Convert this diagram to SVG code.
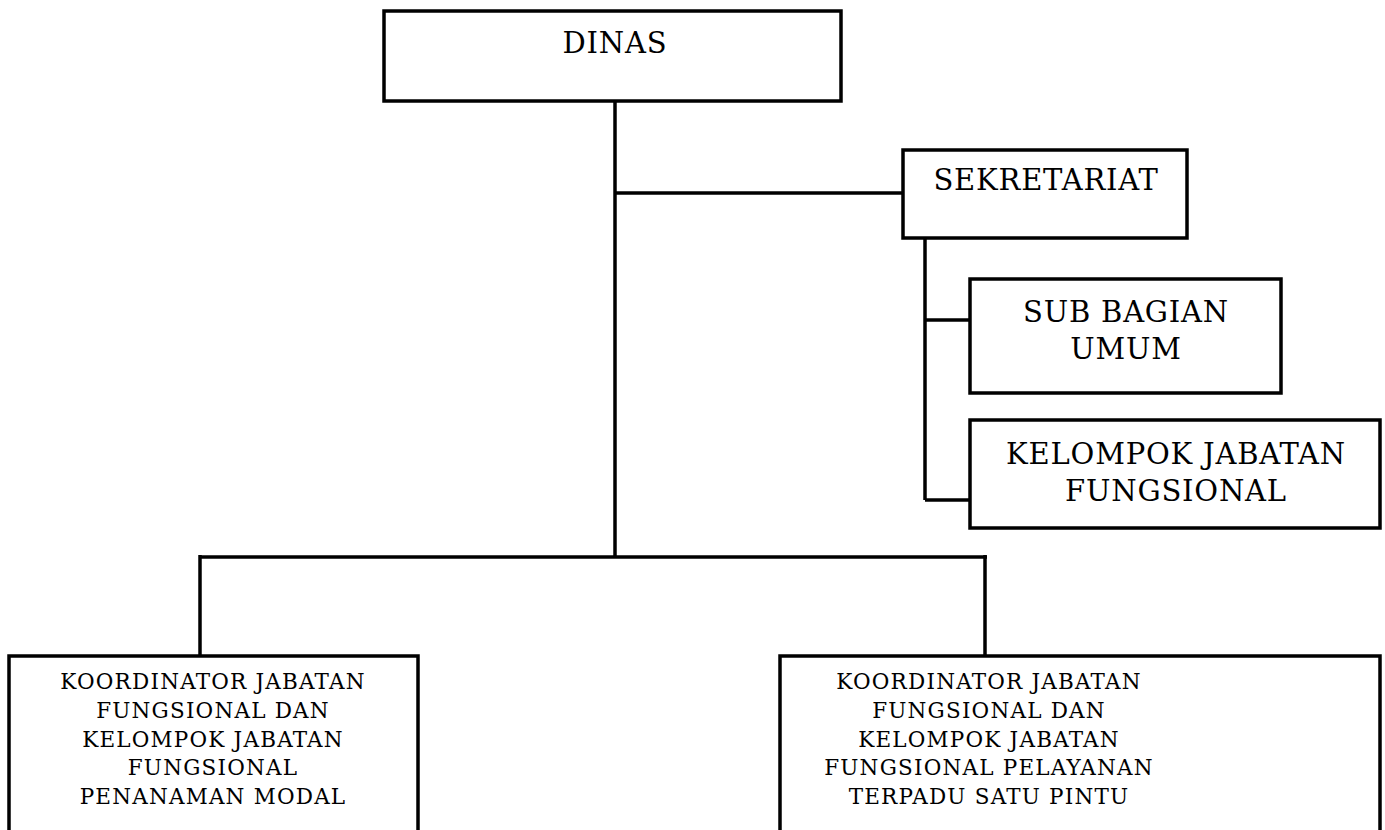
<svg xmlns="http://www.w3.org/2000/svg" width="1385" height="830" viewBox="0 0 1385 830">
<style>
.box{fill:#fff;stroke:#000;stroke-width:3.5}
.ln{stroke:#000;stroke-width:3.5;fill:none}
.t{font-family:"DejaVu Serif","Liberation Serif",serif;fill:#000;text-anchor:middle}
.big{font-size:29px;letter-spacing:0.8px}
.sm{font-size:21.5px;letter-spacing:1.2px}
</style>
<rect width="1385" height="830" fill="#fff"/>
<g id="connectors">
<line class="ln" x1="615" y1="101" x2="615" y2="557"/>
<line class="ln" x1="615" y1="193" x2="903" y2="193"/>
<line class="ln" x1="925" y1="238" x2="925" y2="500"/>
<line class="ln" x1="925" y1="320" x2="970" y2="320"/>
<line class="ln" x1="925" y1="500" x2="970" y2="500"/>
<line class="ln" x1="199" y1="557" x2="987" y2="557"/>
<line class="ln" x1="200" y1="555" x2="200" y2="656"/>
<line class="ln" x1="985" y1="555" x2="985" y2="656"/>
</g>
<g id="dinas">
<rect class="box" x="384" y="11" width="457" height="90"/>
<text class="t big" x="615" y="53">DINAS</text>
</g>
<g id="sekretariat">
<rect class="box" x="903" y="150" width="284" height="88"/>
<text class="t big" x="1046" y="190">SEKRETARIAT</text>
</g>
<g id="subbagian">
<rect class="box" x="970" y="279" width="311" height="114"/>
<text class="t big" x="1126" y="322">SUB BAGIAN</text>
<text class="t big" x="1126" y="359">UMUM</text>
</g>
<g id="kelompok">
<rect class="box" x="970" y="420" width="410" height="108"/>
<text class="t big" x="1176" y="464">KELOMPOK JABATAN</text>
<text class="t big" x="1176" y="501">FUNGSIONAL</text>
</g>
<g id="koord-pm">
<rect class="box" x="9" y="656" width="409" height="190"/>
<text class="t sm" x="213" y="689">KOORDINATOR JABATAN</text>
<text class="t sm" x="213" y="718">FUNGSIONAL DAN</text>
<text class="t sm" x="213" y="747">KELOMPOK JABATAN</text>
<text class="t sm" x="213" y="775">FUNGSIONAL</text>
<text class="t sm" x="213" y="804">PENANAMAN MODAL</text>
</g>
<g id="koord-ptsp">
<rect class="box" x="780" y="656" width="600" height="190"/>
<text class="t sm" x="989" y="689">KOORDINATOR JABATAN</text>
<text class="t sm" x="989" y="718">FUNGSIONAL DAN</text>
<text class="t sm" x="989" y="747">KELOMPOK JABATAN</text>
<text class="t sm" x="989" y="775">FUNGSIONAL PELAYANAN</text>
<text class="t sm" x="989" y="804">TERPADU SATU PINTU</text>
</g>
</svg>
